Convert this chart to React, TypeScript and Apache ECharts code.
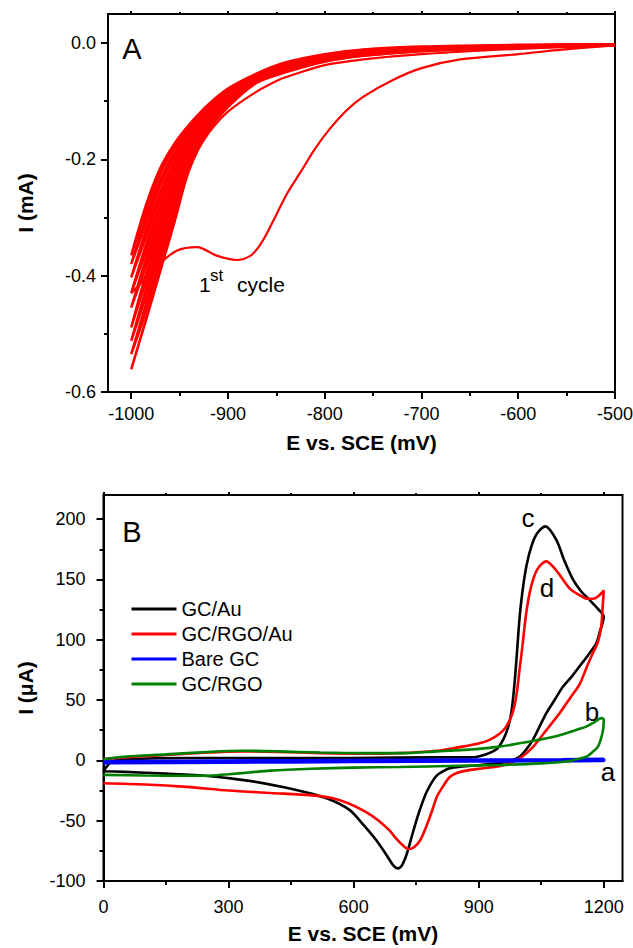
import React, { useEffect, useRef } from 'react';
import * as echarts from 'echarts';

const FONT = '"Liberation Sans", Arial, Helvetica, sans-serif';

// ---------- Panel A data (E in mV, I in mA) ----------
const cycleE = [-500, -600, -700, -760, -800, -840, -870, -900, -920, -940, -955, -970, -985, -1000];

const cyc1Fwd = [-0.002, -0.003, -0.006, -0.011, -0.019, -0.033, -0.052, -0.078, -0.105, -0.140, -0.172, -0.215, -0.280, -0.365];
const cyc1Rev = [-0.002, -0.0035, -0.0065, -0.0115, -0.0195, -0.034, -0.053, -0.080, -0.1075, -0.1445, -0.179, -0.225, -0.290, -0.365];
const cyc2Fwd = [-0.002, -0.004, -0.007, -0.012, -0.020, -0.035, -0.054, -0.082, -0.110, -0.149, -0.186, -0.235, -0.300, -0.380];
const cyc2Rev = [-0.0025, -0.004, -0.0075, -0.013, -0.021, -0.036, -0.055, -0.084, -0.113, -0.1535, -0.1935, -0.2455, -0.3115, -0.380];
const cyc3Fwd = [-0.003, -0.004, -0.008, -0.014, -0.022, -0.037, -0.056, -0.086, -0.116, -0.158, -0.201, -0.256, -0.323, -0.403];
const cyc3Rev = [-0.003, -0.0045, -0.0085, -0.0145, -0.023, -0.038, -0.057, -0.0875, -0.1185, -0.1625, -0.209, -0.2665, -0.3355, -0.403];
const cyc4Fwd = [-0.003, -0.005, -0.009, -0.015, -0.024, -0.039, -0.058, -0.089, -0.121, -0.167, -0.217, -0.277, -0.348, -0.430];
const cyc4Rev = [-0.003, -0.005, -0.0095, -0.0155, -0.0245, -0.040, -0.059, -0.091, -0.124, -0.1715, -0.2245, -0.2875, -0.360, -0.430];
const cyc5Fwd = [-0.003, -0.005, -0.010, -0.016, -0.025, -0.041, -0.060, -0.093, -0.127, -0.176, -0.232, -0.298, -0.372, -0.455];
const cyc5Rev = [-0.003, -0.0055, -0.0105, -0.017, -0.026, -0.042, -0.061, -0.095, -0.1295, -0.1805, -0.240, -0.309, -0.385, -0.455];
const cyc6Fwd = [-0.003, -0.006, -0.011, -0.018, -0.027, -0.043, -0.062, -0.097, -0.132, -0.185, -0.248, -0.320, -0.398, -0.489];
const cyc6Rev = [-0.0035, -0.0065, -0.0115, -0.0185, -0.028, -0.044, -0.063, -0.0985, -0.1345, -0.1895, -0.2565, -0.331, -0.411, -0.489];
const cyc7Fwd = [-0.004, -0.007, -0.012, -0.019, -0.029, -0.045, -0.064, -0.100, -0.137, -0.194, -0.265, -0.342, -0.424, -0.512];
const cyc7Rev = [-0.004, -0.007, -0.0125, -0.020, -0.0295, -0.0465, -0.065, -0.102, -0.140, -0.1985, -0.2735, -0.353, -0.437, -0.512];
const cyc8Fwd = [-0.004, -0.007, -0.013, -0.021, -0.030, -0.048, -0.066, -0.104, -0.143, -0.203, -0.282, -0.364, -0.450, -0.535];
const cyc8Rev = [-0.004, -0.0075, -0.0135, -0.0215, -0.031, -0.049, -0.067, -0.106, -0.1455, -0.2075, -0.290, -0.375, -0.4625, -0.535];
const cyc9Fwd = [-0.004, -0.008, -0.014, -0.022, -0.032, -0.050, -0.068, -0.108, -0.148, -0.212, -0.300, -0.388, -0.476, -0.561];
const cyc9Rev = [-0.004, -0.008, -0.014, -0.022, -0.032, -0.050, -0.068, -0.110, -0.151, -0.218, -0.306, -0.392, -0.478, -0.561];

const firstFwdE = [-500, -560, -600, -660, -700, -729, -760, -777, -795, -811, -825, -839, -850, -860, -868, -877, -891, -911, -932, -953, -971, -985, -1000];
const firstFwdI = [-0.004, -0.012, -0.019, -0.028, -0.043, -0.063, -0.092, -0.115, -0.148, -0.184, -0.222, -0.259, -0.295, -0.328, -0.350, -0.366, -0.373, -0.366, -0.351, -0.357, -0.380, -0.405, -0.430];
const firstRevE = [-1000, -985, -970, -955, -940, -920, -900, -870, -846, -832, -800, -760, -700, -600, -500];
const firstRevI = [-0.430, -0.400, -0.335, -0.268, -0.208, -0.155, -0.118, -0.083, -0.062, -0.054, -0.038, -0.028, -0.019, -0.010, -0.004];

const aXTicks = [-1000, -900, -800, -700, -600, -500];
const aXMinor = [-950, -850, -750, -650, -550];
const aYTicks = [-0.6, -0.4, -0.2, 0];
const aYMinor = [-0.5, -0.3, -0.1];

// ---------- Panel B data (E in mV, I in µA) ----------
const gcAuE = [0, 20, 60, 200, 400, 600, 800, 880, 902, 925, 945, 960, 970, 978, 985, 992, 998, 1005, 1015, 1027, 1040, 1060, 1086, 1105, 1126, 1146, 1166, 1185, 1200,
  1190, 1182, 1162, 1142, 1122, 1102, 1082, 1062, 1046, 1030, 1014, 998, 975, 946, 900, 860, 830, 810, 798, 786, 774, 766, 755, 742, 728, 716, 706, 695, 680, 654, 620, 590, 540, 480, 430, 350, 250, 150, 50, 0];
const gcAuI = [-9, -1, 1, 2, 2, 2, 2.5, 2.5, 3.5, 6, 10, 18, 27, 39, 60, 90, 118, 140, 162, 178, 188, 194, 183, 166, 150, 140, 133, 126, 119,
  106, 97, 87, 78, 69, 61, 50, 39, 28, 17, 9, 3, -0.5, -2.5, -4, -5, -6.5, -10, -13, -19, -27, -34, -45, -60, -77, -87, -89.5, -87, -79, -66, -52, -41, -32, -26, -22, -17, -13, -11, -9.5, -9];

const gcRgoAuE = [0, 50, 150, 250, 330, 420, 520, 620, 710, 800, 854, 900, 926, 950, 966, 980, 990, 998, 1005, 1014, 1025, 1040, 1062, 1080, 1102, 1120, 1142, 1160, 1175, 1190, 1200,
  1197, 1194, 1186, 1174, 1160, 1142, 1120, 1094, 1060, 1030, 1000, 970, 946, 900, 870, 846, 830, 814, 800, 788, 774, 760, 745, 732, 720, 700, 686, 660, 630, 590, 550, 500, 400, 300, 200, 100, 0];
const gcRgoAuI = [1, 2.5, 4.5, 6.5, 7.5, 7, 6, 5.5, 6, 8, 11, 14, 17, 22, 28, 38, 53, 75, 95, 122, 143, 158, 165, 160, 150, 142, 137, 134, 134, 137, 141,
  125, 111, 98, 89, 78, 63, 52, 39, 24, 11, 2, -3, -5, -7, -8.5, -10.7, -14, -21.8, -30, -42, -55, -66, -72, -73.5, -71, -64, -58, -50, -43, -36, -31.4, -29, -27, -25, -22, -20, -19];

const bareGcE = [0, 300, 600, 900, 1100, 1200, 1200, 900, 600, 300, 0];
const bareGcI = [-1, -0.5, 0, 0.3, 0.5, 1, 0, -0.5, -1, -1.5, -2];

const gcRgoE = [0, 50, 150, 250, 330, 420, 520, 620, 710, 800, 900, 950, 1030, 1080, 1110, 1140, 1158, 1175, 1194, 1200, 1199, 1195, 1186, 1170, 1158, 1130, 1110, 1050, 950, 850, 710, 600, 500, 400, 350, 300, 260, 200, 100, 0];
const gcRgoI = [1, 3, 5, 7, 8, 7.5, 6.5, 6, 6, 7.5, 9.5, 11.4, 16, 19.5, 22.5, 26, 28, 31, 35, 34, 27, 20, 11.4, 6, 3, 0.5, -1, -2.5, -3.8, -4.5, -5.5, -6, -7, -8.5, -10, -11.5, -12.5, -12.8, -12.5, -12];

const bXTicks = [0, 300, 600, 900, 1200];
const bXMinor = [150, 450, 750, 1050];
const bYTicks = [-100, -50, 0, 50, 100, 150, 200];
const bYMinor = [-75, -25, 25, 75, 125, 175];

const legendNames = ['GC/Au', 'GC/RGO/Au', 'Bare GC', 'GC/RGO'];
const bColors = ['#000000', '#ff0000', '#0000ff', '#008000'];

// ---------- helpers ----------
const zip = (xs: number[], ys: number[]) => xs.map((x, i) => [x, ys[i]]);
const loop = (fwd: number[], rev: number[]) =>
  zip(cycleE, fwd).concat(zip(cycleE, rev).reverse());

const black = '#000';
const tickLabel = { color: black, fontSize: 18, fontFamily: FONT };
const nameStyle = { color: black, fontSize: 21, fontFamily: FONT, fontWeight: 'bold' as const };

function mainAxis(gridIndex: number, position: string, min: number, max: number, ticks: number[], margin: number, name: string, nameGap: number, fmt: (v: number) => string) {
  return {
    type: 'value', gridIndex, position, min, max,
    name, nameLocation: 'middle', nameGap, nameTextStyle: nameStyle,
    axisLine: { show: true, onZero: false, lineStyle: { color: black, width: 2 } },
    axisTick: { show: true, inside: false, length: 7, customValues: ticks, lineStyle: { color: black, width: 2 } },
    axisLabel: { show: true, customValues: ticks, margin, formatter: fmt, ...tickLabel },
    splitLine: { show: false },
  };
}
function tickAxis(gridIndex: number, position: string, min: number, max: number, ticks: number[], len: number) {
  return {
    type: 'value', gridIndex, position, min, max,
    axisLine: { show: false, onZero: false },
    axisTick: { show: true, inside: false, length: len, customValues: ticks, lineStyle: { color: black, width: 2 } },
    axisLabel: { show: false },
    splitLine: { show: false },
  };
}

const cycles = [
  [cyc1Fwd, cyc1Rev], [cyc2Fwd, cyc2Rev], [cyc3Fwd, cyc3Rev], [cyc4Fwd, cyc4Rev], [cyc5Fwd, cyc5Rev],
  [cyc6Fwd, cyc6Rev], [cyc7Fwd, cyc7Rev], [cyc8Fwd, cyc8Rev], [cyc9Fwd, cyc9Rev],
];

const aSeries: any[] = cycles.map(([f, r], i) => ({
  type: 'line', name: 'cycle' + (i + 2), xAxisIndex: 0, yAxisIndex: 0,
  data: loop(f, r), smooth: 0.3, symbol: 'none',
  lineStyle: { color: '#ff0000', width: 2.5 },
}));
aSeries.push({
  type: 'line', name: 'cycle1', xAxisIndex: 0, yAxisIndex: 0,
  data: zip(firstFwdE, firstFwdI).concat(zip(firstRevE, firstRevI)),
  smooth: 0.3, symbol: 'none', lineStyle: { color: '#ff0000', width: 2.2 },
});

const bData = [zip(gcAuE, gcAuI), zip(gcRgoAuE, gcRgoAuI), zip(bareGcE, bareGcI), zip(gcRgoE, gcRgoI)];
const bSeries = bData.map((d, i) => ({
  type: 'line', name: legendNames[i], xAxisIndex: 4, yAxisIndex: 2,
  data: d, smooth: 0.3, symbol: 'none',
  lineStyle: { color: bColors[i], width: i === 2 ? 3.5 : 2.6 },
  itemStyle: { color: bColors[i] },
}));

function txt(x: number, y: number, text: string, fontSize: number, align = 'center') {
  return {
    type: 'text', x, y, silent: true,
    style: { text, fontSize, fontFamily: FONT, fill: black, align, verticalAlign: 'middle' },
  };
}

const option: any = {
  animation: false,
  backgroundColor: '#ffffff',
  grid: [
    { left: 108, top: 14, width: 507, height: 378, show: true, borderColor: black, borderWidth: 2, outerBoundsMode: 'none', containLabel: false },
    { left: 103.5, top: 495, width: 519, height: 386, show: true, borderColor: black, borderWidth: 2, outerBoundsMode: 'none', containLabel: false },
  ],
  xAxis: [
    mainAxis(0, 'bottom', -1024, -500, aXTicks, 12.5, 'E vs. SCE (mV)', 40, (v) => String(v)),
    tickAxis(0, 'bottom', -1024, -500, aXMinor, 4),
    tickAxis(0, 'top', -1024, -500, aXTicks, 3),
    tickAxis(0, 'top', -1024, -500, aXMinor, 2),
    mainAxis(1, 'bottom', 0, 1245, bXTicks, 17, 'E vs. SCE (mV)', 42, (v) => String(v)),
    tickAxis(1, 'bottom', 0, 1245, bXMinor, 4),
    tickAxis(1, 'top', 0, 1245, bXTicks, 3),
    tickAxis(1, 'top', 0, 1245, bXMinor, 2),
  ],
  yAxis: [
    mainAxis(0, 'left', -0.6, 0.05, aYTicks, 12, 'I (mA)', 72, (v) => v.toFixed(1)),
    tickAxis(0, 'left', -0.6, 0.05, aYMinor, 4),
    mainAxis(1, 'left', -100, 220, bYTicks, 18, 'I (\u03bcA)', 68, (v) => String(v)),
    tickAxis(1, 'left', -100, 220, bYMinor, 4),
  ],
  legend: {
    data: legendNames, orient: 'vertical', left: 126.5, top: 594,
    icon: 'rect', itemWidth: 45, itemHeight: 3, itemGap: 5,
    textStyle: { color: black, fontSize: 20, fontFamily: FONT },
    selectedMode: false,
  },
  series: [...aSeries, ...bSeries],
  graphic: [
    txt(132, 48.5, 'A', 29),
    txt(132, 532, 'B', 29),
    txt(199, 284.6, '1', 21, 'left'),
    txt(210, 275, 'st', 17, 'left'),
    txt(237, 284.6, 'cycle', 21, 'left'),
    txt(528, 518, 'c', 26),
    txt(547, 588, 'd', 26),
    txt(592, 712, 'b', 26),
    txt(608, 772, 'a', 26),
  ],
};

export default function App() {
  const ref = useRef<HTMLDivElement>(null);
  useEffect(() => {
    const chart = echarts.init(ref.current as HTMLDivElement, null, { renderer: 'svg', width: 633, height: 948 });
    chart.setOption(option);
    return () => chart.dispose();
  }, []);
  return (
    <div
      ref={ref}
      style={{ position: 'fixed', left: 0, top: 0, width: 633, height: 948, background: '#fff' }}
    />
  );
}
